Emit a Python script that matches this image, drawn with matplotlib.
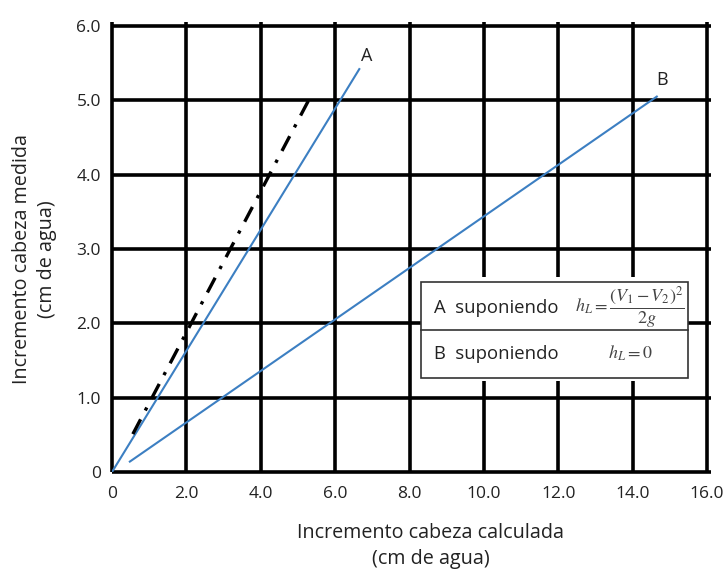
import matplotlib.pyplot as plt
from matplotlib.patches import Rectangle

plt.rcParams['font.family'] = ['Open Sans', 'DejaVu Sans']
plt.rcParams['mathtext.fontset'] = 'stix'

# datos
x_ticks = [0, 2, 4, 6, 8, 10, 12, 14, 16]
x_tick_labels = ["0", "2.0", "4.0", "6.0", "8.0", "10.0", "12.0", "14.0", "16.0"]
y_ticks = [0, 1, 2, 3, 4, 5, 6]
y_tick_labels = ["0", "1.0", "2.0", "3.0", "4.0", "5.0", "6.0"]

linea_a_x = [0.0, 6.65]
linea_a_y = [0.0, 5.42]
linea_b_x = [0.48, 14.65]
linea_b_y = [0.14, 5.05]
linea_ideal_x = [0.56, 5.35]
linea_ideal_y = [0.51, 5.06]

azul = '#3c7fc2'
texto = '#222222'

fig = plt.figure(figsize=(7.26, 5.71), dpi=100)
ax = fig.add_axes([0.1543, 0.1734, 0.8195, 0.7811])
ax.set_xlim(0, 16)
ax.set_ylim(0, 6)

# cuadrícula gruesa
for xv in x_ticks:
    ax.plot([xv, xv], [0, 6.06], color='black', lw=2.6, clip_on=False, zorder=1,
            solid_capstyle='butt')
for yv in y_ticks:
    ax.plot([0, 16.1], [yv, yv], color='black', lw=2.6, clip_on=False, zorder=1,
            solid_capstyle='butt')
for s in ax.spines.values():
    s.set_visible(False)

ax.set_xticks(x_ticks)
ax.set_xticklabels(x_tick_labels)
ax.set_yticks(y_ticks)
ax.set_yticklabels(y_tick_labels)
ax.tick_params(length=0, labelsize=12.5, colors=texto)
ax.tick_params(axis='y', pad=8)
ax.tick_params(axis='x', pad=10)
ax.get_xticklabels()[0].set_x(0.27)

ax.plot(linea_a_x, linea_a_y, color=azul, lw=1.5, zorder=3)
ax.plot(linea_b_x, linea_b_y, color=azul, lw=1.5, zorder=3)
ax.plot(linea_ideal_x, linea_ideal_y, color='black', lw=2.4, zorder=3,
        linestyle=(0, (5, 3, 1, 3)))

ax.text(6.85, 5.6, "A", fontsize=13, ha='center', va='center', color=texto)
ax.text(14.8, 5.27, "B", fontsize=13, ha='center', va='center', color=texto)

# recuadro de leyenda
ax.add_patch(Rectangle((8.3, 1.22), 7.2, 1.40, facecolor='white', edgecolor='none', zorder=4))
ax.add_patch(Rectangle((8.3, 1.27), 7.2, 1.29, facecolor='white', edgecolor='#333333',
                       lw=1.2, zorder=5))
ax.plot([8.3, 15.5], [1.91, 1.91], color='#333333', lw=1.2, zorder=6)
ax.text(8.65, 2.21, "A  suponiendo", fontsize=13.3, va='center', zorder=7, color=texto)
ax.text(12.45, 2.22, r"$h_L = \dfrac{(V_1 - V_2)^2}{2g}$", fontsize=13, va='center',
        zorder=7, color='#444444')
ax.text(8.65, 1.59, "B  suponiendo", fontsize=13.3, va='center', zorder=7, color=texto)
ax.text(13.35, 1.6, r"$h_L = 0$", fontsize=13, va='center', zorder=7, color='#444444')

fig.text(0.593, 0.044, "Incremento cabeza calculada\n(cm de agua)", ha='center',
         va='center', fontsize=14.2, color=texto, linespacing=1.35)
fig.text(0.0475, 0.546, "Incremento cabeza medida\n(cm de agua)", ha='center',
         va='center', fontsize=14.2, color=texto, rotation=90, linespacing=1.35)

fig.savefig("out.png", dpi=100)
